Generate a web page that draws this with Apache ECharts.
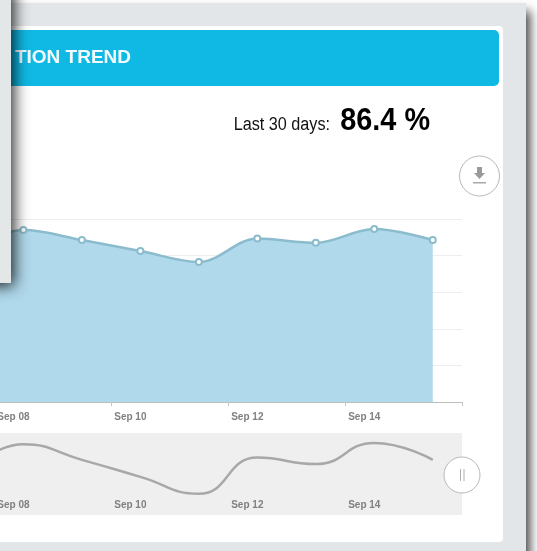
<!DOCTYPE html>
<html>
<head>
    <meta charset="utf-8">
    <title>Adoption trend</title>
    <script src="https://cdn.jsdelivr.net/npm/echarts@6/dist/echarts.min.js"></script>
    <style>
        html, body { margin: 0; padding: 0; background: #fff; }
    </style>
</head>
<body>
    <div id="main" style="width: 537px;height:551px;"></div>
    <script type="text/javascript">
        // chart data
        var days = [7, 8, 9, 10, 11, 12, 13, 14, 15];
        var values = [83, 94, 88.5, 82.5, 76.5, 89.3, 87, 94.5, 88.5];
        var labelDays = [8, 10, 12, 14];
        var tickLabels = ['Sep 08', 'Sep 10', 'Sep 12', 'Sep 14'];
        var tickDays = [9.5, 11.5, 13.5, 15.5];

        var points = days.map(function (d, i) {
            return [d, values[i]];
        });

        var myChart = echarts.init(document.getElementById('main'));

        var labelFont = {
            fontFamily: 'Liberation Sans',
            fontSize: 10,
            fontWeight: 'bold',
            color: '#808080',
            padding: [0, 20, 0, 0],
            customValues: labelDays,
            formatter: function (v) {
                return tickLabels[labelDays.indexOf(v)];
            }
        };

        var option = {
            animation: false,
            textStyle: { fontFamily: 'Liberation Sans' },
            grid: [
                { left: 0, right: 75, top: 219, bottom: 149, outerBoundsMode: 'none' },
                {
                    left: 0, right: 75, top: 433, bottom: 36, outerBoundsMode: 'none',
                    show: true, backgroundColor: '#efefef', borderWidth: 0
                }
            ],
            xAxis: [
                {
                    type: 'value', gridIndex: 0, min: 7.6, max: 15.5,
                    splitLine: { show: false },
                    axisLine: { lineStyle: { color: '#bdbdbd', width: 1 } },
                    axisTick: { length: 4, customValues: tickDays, lineStyle: { color: '#c4c4c4' } },
                    axisLabel: Object.assign({ margin: 10 }, labelFont)
                },
                {
                    type: 'value', gridIndex: 1, min: 7.6, max: 15.5,
                    splitLine: { show: false },
                    axisLine: { show: false },
                    axisTick: { show: false },
                    axisLabel: Object.assign({ inside: true, margin: 5 }, labelFont)
                }
            ],
            yAxis: [
                {
                    type: 'value', gridIndex: 0, min: 0, max: 100, interval: 20,
                    axisLine: { show: false },
                    axisTick: { show: false },
                    axisLabel: { show: false },
                    splitLine: { lineStyle: { color: '#eeeeee' } }
                },
                {
                    type: 'value', gridIndex: 1, min: 69, max: 98,
                    axisLine: { show: false },
                    axisTick: { show: false },
                    axisLabel: { show: false },
                    splitLine: { show: false }
                }
            ],
            series: [
                {
                    type: 'line',
                    xAxisIndex: 0,
                    yAxisIndex: 0,
                    data: points,
                    smooth: 0.35,
                    symbol: 'circle',
                    symbolSize: 6,
                    lineStyle: { color: '#8bbccd', width: 2.5 },
                    itemStyle: { color: '#ffffff', borderColor: '#8bbccd', borderWidth: 2 },
                    areaStyle: { color: '#b0d9ec', opacity: 1 }
                },
                {
                    type: 'line',
                    xAxisIndex: 1,
                    yAxisIndex: 1,
                    data: points,
                    smooth: 0.5,
                    symbol: 'none',
                    lineStyle: { color: '#a8a8a8', width: 2.5 }
                }
            ],
            graphic: [
                // page frame behind the chart
                {
                    type: 'rect', z: -20, silent: true,
                    shape: { x: -20, y: 3, width: 546, height: 570 },
                    style: { fill: '#e2e6e8', shadowBlur: 10, shadowOffsetX: 4, shadowOffsetY: 8, shadowColor: 'rgba(0,0,0,0.75)' }
                },
                {
                    type: 'rect', z: -19, silent: true,
                    shape: { x: -20, y: 26, width: 523, height: 516, r: 4 },
                    style: { fill: '#ffffff' }
                },
                {
                    type: 'rect', z: -18, silent: true,
                    shape: { x: -20, y: 30, width: 519, height: 56, r: 5 },
                    style: { fill: '#10b8e4' }
                },
                {
                    type: 'text', z: 10, silent: true, x: 131, y: 58,
                    style: {
                        text: 'TION TREND', align: 'right', verticalAlign: 'middle', fill: '#f4fbfe',
                        font: 'bold 19px "Liberation Sans"'
                    }
                },
                {
                    type: 'text', z: 10, silent: true, x: 330, y: 125, scaleX: 0.9,
                    style: {
                        text: 'Last 30 days:', align: 'right', verticalAlign: 'middle', fill: '#111111',
                        font: '18px "Liberation Sans"'
                    }
                },
                {
                    type: 'text', z: 10, silent: true, x: 430, y: 121, scaleX: 0.9,
                    style: {
                        text: '86.4 %', align: 'right', verticalAlign: 'middle', fill: '#000000',
                        font: 'bold 32px "Liberation Sans"'
                    }
                },
                // download button
                {
                    type: 'circle', z: 10, silent: true,
                    shape: { cx: 479.5, cy: 176, r: 20 },
                    style: { fill: '#ffffff', stroke: '#b8b8b8', lineWidth: 1 }
                },
                {
                    type: 'polygon', z: 11, silent: true,
                    shape: { points: [[477, 167], [482, 167], [482, 173], [485, 173], [479.5, 179], [474, 173], [477, 173]] },
                    style: { fill: '#9a9a9a' }
                },
                {
                    type: 'rect', z: 11, silent: true,
                    shape: { x: 473, y: 182, width: 13, height: 1.5 },
                    style: { fill: '#a8a8a8' }
                },
                // pause button
                {
                    type: 'circle', z: 10, silent: true,
                    shape: { cx: 462, cy: 475, r: 18 },
                    style: { fill: '#ffffff', stroke: '#b8b8b8', lineWidth: 1 }
                },
                {
                    type: 'rect', z: 11, silent: true,
                    shape: { x: 460, y: 469, width: 1, height: 12 },
                    style: { fill: '#b0b0b0' }
                },
                {
                    type: 'rect', z: 11, silent: true,
                    shape: { x: 463.5, y: 469, width: 1, height: 12 },
                    style: { fill: '#b0b0b0' }
                },
                // panel lying over the left side
                {
                    type: 'rect', z: 100, silent: true,
                    shape: { x: -20, y: -20, width: 31, height: 303 },
                    style: { fill: '#e3e7e8', shadowBlur: 15, shadowOffsetX: 3, shadowOffsetY: 3, shadowColor: 'rgba(0,0,0,0.85)' }
                }
            ]
        };

        myChart.setOption(option);
    </script>
</body>
</html>
